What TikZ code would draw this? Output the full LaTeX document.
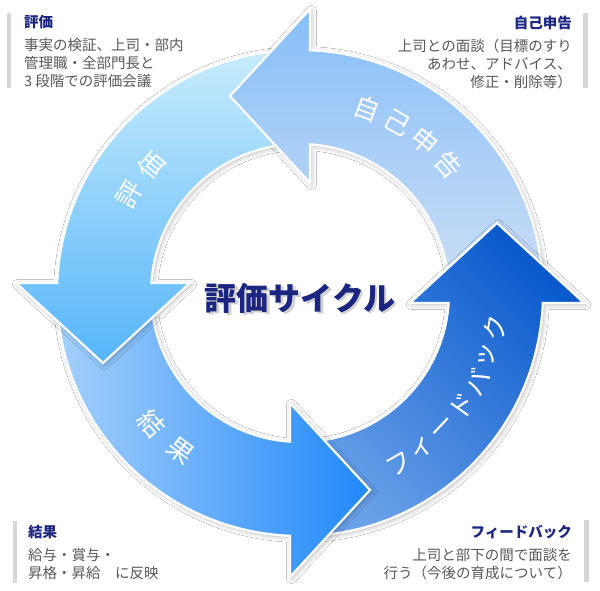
\documentclass[tikz,border=0pt]{standalone}
\usepackage{fontspec}
\setmainfont{Noto Sans CJK JP}
\usetikzlibrary{positioning,shadows.blur}
\definecolor{navy}{RGB}{28,38,128}
\definecolor{memo}{RGB}{88,88,88}
\definecolor{bargray}{RGB}{214,214,214}
\definecolor{jkA}{RGB}{135,190,248}
\definecolor{jkB}{RGB}{205,223,245}
\definecolor{hyA}{RGB}{200,236,252}
\definecolor{hyB}{RGB}{86,181,250}
\definecolor{kkA}{RGB}{165,208,250}
\definecolor{kkB}{RGB}{32,136,250}
\definecolor{fbA}{RGB}{105,160,232}
\definecolor{fbB}{RGB}{10,90,205}
\tikzset{
  ringline/.style={draw=white, line width=2.2pt, line join=miter},
  ring/.style={ringline, blur shadow={shadow xshift=1.5pt, shadow yshift=-1.5pt,
                                      shadow blur radius=5pt, shadow opacity=30}},
  lab/.style={text=white, font=\fontsize{26}{26}\selectfont, inner sep=0pt},
  cyc/.style={text=navy, font=\fontsize{32}{32}\selectfont\bfseries, inner sep=0pt},
  ttl/.style={text=navy, font=\fontsize{14.5}{17}\selectfont\bfseries, inner sep=0pt},
  memotxt/.style={text=memo, font=\fontsize{14.5}{17.8}\selectfont, inner sep=0pt},
  bar/.style={fill=bargray, draw=none},
}
\def\jkpath{(0:243) arc[start angle=0,end angle=87.64,radius=243] -- (10,284) -- (-70,197)
  -- (10,110) -- (86.15:149) arc[start angle=86.15,end angle=0,radius=149] -- cycle}
\def\hypath{(90:243) arc[start angle=90,end angle=177.64,radius=243] -- (-284,10) -- (-197,-70)
  -- (-110,10) -- (176.15:149) arc[start angle=176.15,end angle=90,radius=149] -- cycle}
\def\kkpath{(180:243) arc[start angle=180,end angle=267.64,radius=243] -- (-10,-284) -- (70,-197)
  -- (-10,-110) -- (266.15:149) arc[start angle=266.15,end angle=180,radius=149] -- cycle}
\def\fbpath{(270:243) arc[start angle=270,end angle=357.64,radius=243] -- (284,-10) -- (197,70)
  -- (110,-10) -- (356.15:149) arc[start angle=356.15,end angle=270,radius=149] -- cycle}

\begin{document}
\begin{tikzpicture}[x=1pt, y=1pt]
\fill[white] (0,0) rectangle (600,590);
\useasboundingbox (0,0) rectangle (600,590);

\begin{scope}[shift={(300,297)}]
\shade[ring, top color=jkA, bottom color=jkB] \jkpath;
\shade[ring, top color=fbA, bottom color=fbB, shading angle=135] \fbpath;
\shade[ring, left color=kkA, right color=kkB] \kkpath;
\shade[ring, top color=hyA, middle color=hyB, bottom color=hyB] \hypath;
\begin{scope}
\clip (-85,90) rectangle (11.6,300);
\shade[ringline, top color=jkA, bottom color=jkB] \jkpath;
\end{scope}

\foreach \ch/\ang [count=\i] in {自/70, 己/60.3, 申/50.6, 告/41}
  \node[lab, rotate=\ang-90] (jk\i) at (\ang:196) {\ch};
\foreach \ch/\ang [count=\i] in {評/150, 価/139.5}
  \node[lab, rotate=\ang-90] (hy\i) at (\ang:196) {\ch};
\foreach \ch/\ang [count=\i] in {結/221.5, 果/233}
  \node[lab, rotate=\ang+90] (kk\i) at (\ang:198) {\ch};
\foreach \ch/\ang [count=\i] in {フ/-60, ィ/-51.7, ー/-43.4, ド/-35.1, バ/-26.8, ッ/-18.5, ク/-10.2}
  \node[lab, rotate=\ang+90] (fb\i) at (\ang:198) {\ch};

\node[cyc, text=black!45, opacity=.4] (cycsh) at (2.5,-7.5) {評価サイクル};
\node[cyc] (cyc) at (0,-5) {評価サイクル};
\end{scope}

\fill[bar] (7,577) rectangle (11,502);
\node[ttl, anchor=west] (hyT) at (24,568) {評価};
\node[memotxt, below=9pt of hyT.south west, anchor=north west, align=left] (hyM)
  {事実の検証、上司・部内\\管理職・全部門長と\\3 段階での評価会議};

\fill[bar] (583,577) rectangle (588,502);
\node[ttl, anchor=east] (jkT) at (572,567) {自己申告};
\node[memotxt, below=9pt of jkT.south east, anchor=north east, align=right] (jkM)
  {上司との面談（目標のすり\\あわせ、アドバイス、\\修正・削除等）};

\fill[bar] (13,69) rectangle (17,7);
\node[ttl, anchor=west] (kkT) at (28,58) {結果};
\node[memotxt, below=9pt of kkT.south west, anchor=north west, align=left] (kkM)
  {給与・賞与・\\昇格・昇給　に反映};

\fill[bar] (584,70) rectangle (589,8);
\node[ttl, anchor=east] (fbT) at (572,58) {フィードバック};
\node[memotxt, below=9pt of fbT.south east, anchor=north east, align=right] (fbM)
  {上司と部下の間で面談を\\行う（今後の育成について）};
\end{tikzpicture}
\end{document}
